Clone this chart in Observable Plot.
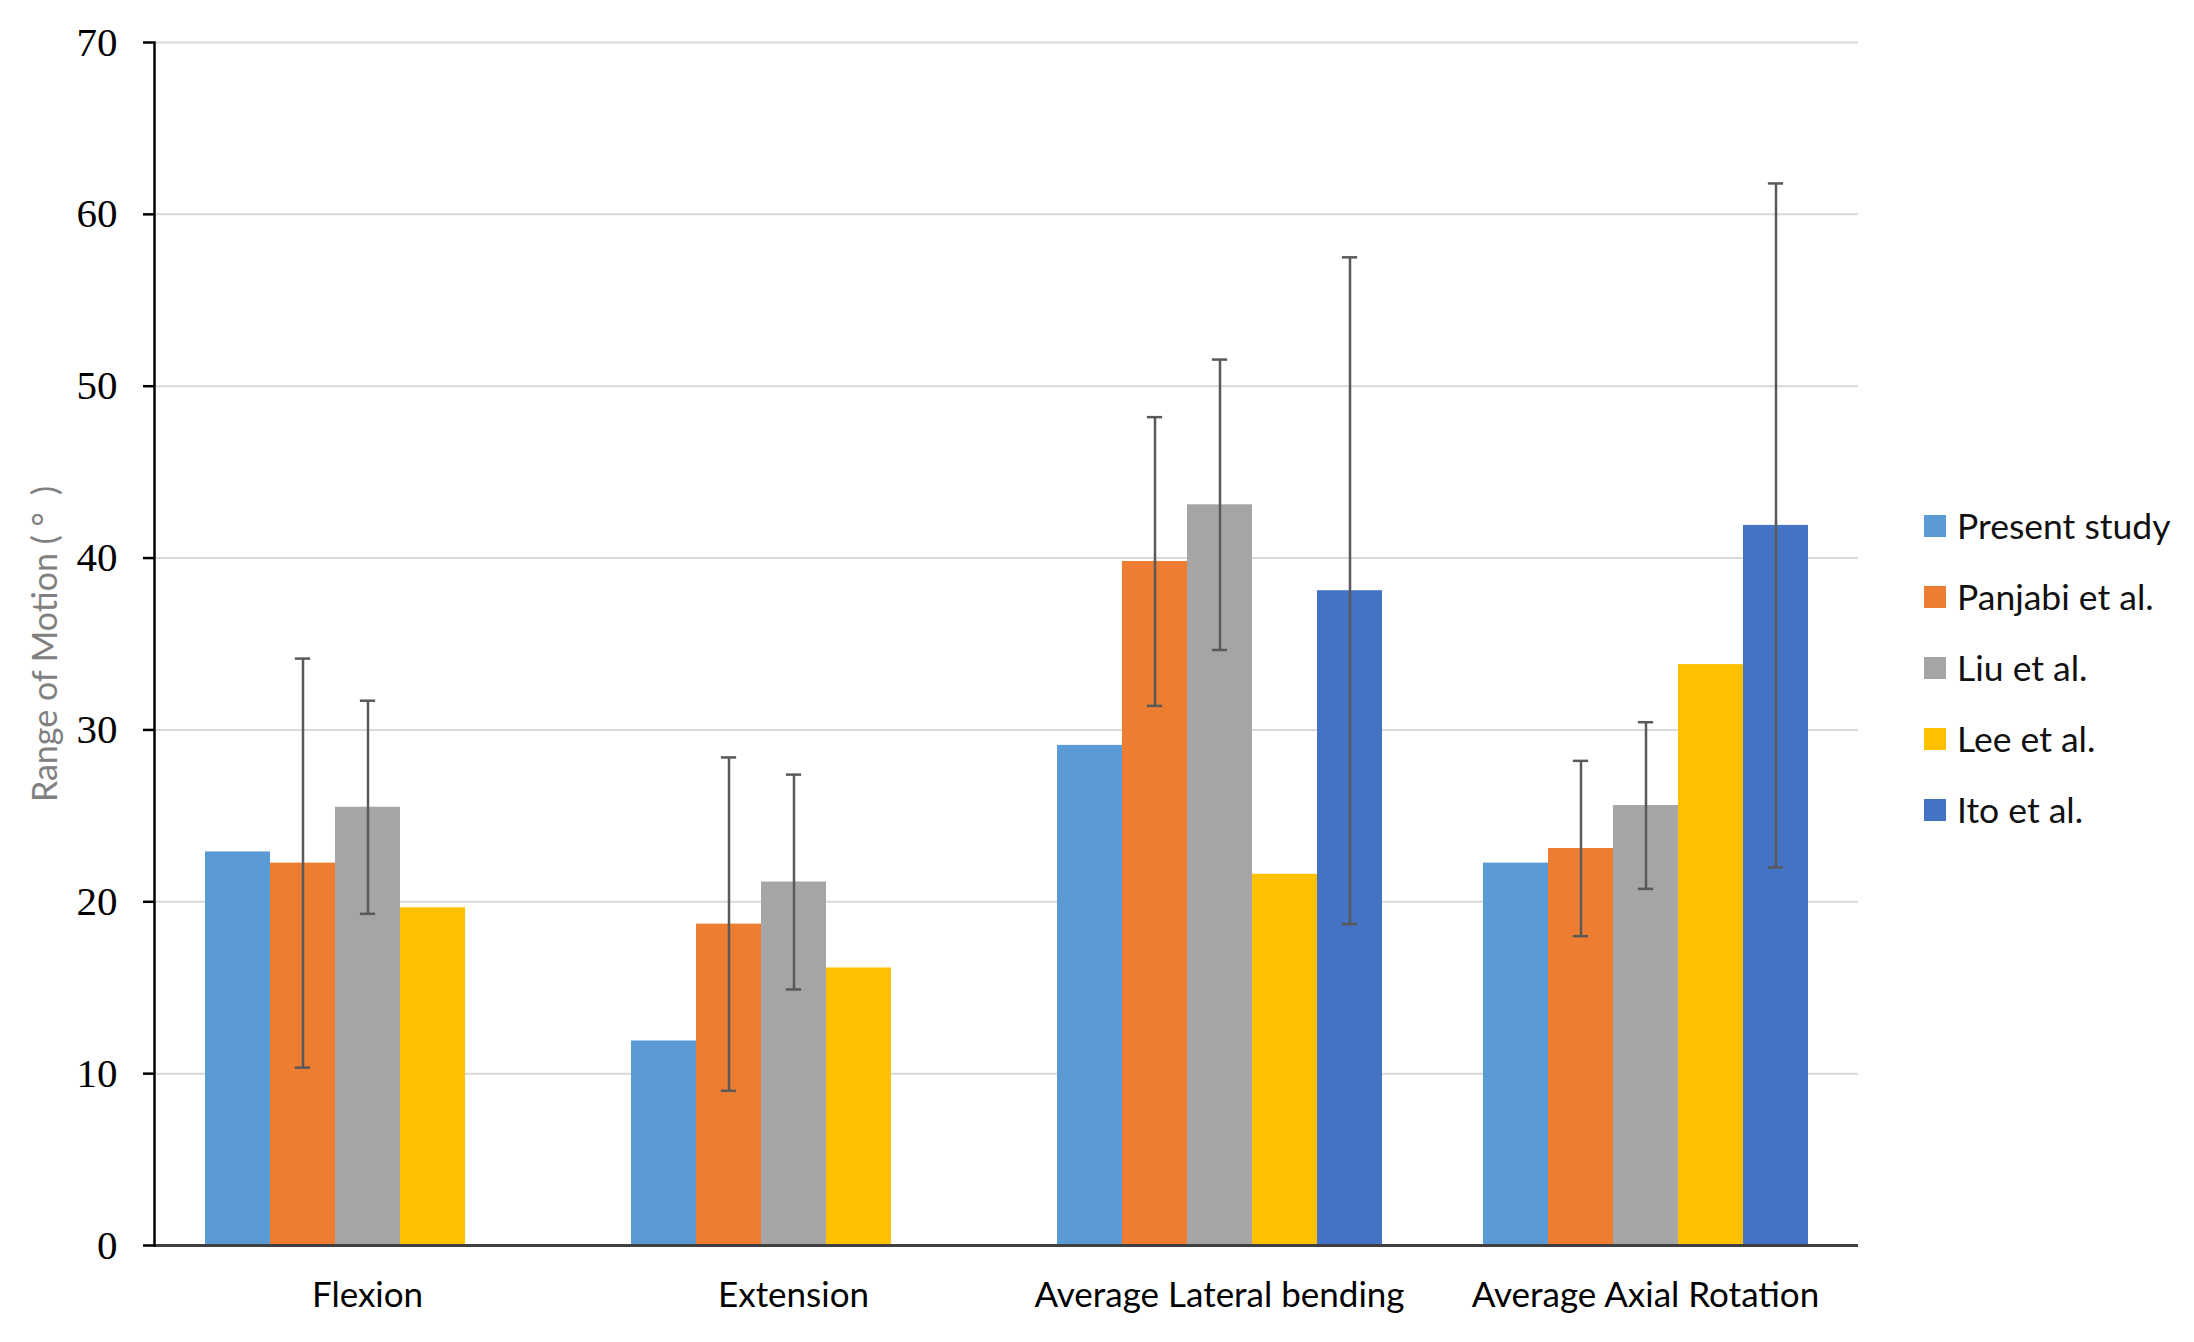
<!DOCTYPE html>
<html>
<head>
<meta charset="utf-8">
<script src="https://cdn.jsdelivr.net/npm/d3@7"></script>
<script src="https://cdn.jsdelivr.net/npm/@observablehq/plot@0.6"></script>
<style>
  html, body { margin: 0; padding: 0; background: white; }
  #wrap { position: relative; width: 2194px; height: 1342px; }
  #legend { position: absolute; left: 1924px; top: 490px; font-family: Lato, "Open Sans", sans-serif; font-size: 35.5px; color: #111; }
  .item { display: flex; align-items: center; height: 71px; }
  .sw { width: 22px; height: 22px; margin-right: 11px; }
</style>
</head>
<body>
<div id="wrap"><div id="chart"></div><div id="legend"></div></div>
<script>
const categories = ["Flexion", "Extension", "Average Lateral bending", "Average Axial Rotation"];
const series = ["Present study", "Panjabi et al.", "Liu et al.", "Lee et al.", "Ito et al."];
const colors = ["#5B9BD5", "#ED7D31", "#A5A5A5", "#FFC000", "#4472C4"];

const presentStudy = [22.9, 11.9, 29.1, 22.25];
const panjabi      = [22.25, 18.7, 39.8, 23.1];
const liu          = [25.5, 21.15, 43.1, 25.6];
const lee          = [19.65, 16.15, 21.6, 33.8];
const ito          = [null, null, 38.1, 41.9];

const presentSD = [null, null, null, null];
const panjabiSD = [11.9, 9.7, 8.4, 5.1];
const liuSD     = [6.2, 6.25, 8.45, 4.85];
const leeSD     = [null, null, null, null];
const itoSD     = [null, null, 19.4, 19.9];

const yTicks = [0, 10, 20, 30, 40, 50, 60, 70];

const means = [presentStudy, panjabi, liu, lee, ito];
const sds = [presentSD, panjabiSD, liuSD, leeSD, itoSD];

const rows = [];
categories.forEach((c, i) => {
  series.forEach((s, j) => {
    const v = means[j][i];
    if (v == null) return;
    const sd = sds[j][i];
    rows.push({category: c, series: s, value: v, sd: sd,
               lo: sd == null ? null : v - sd, hi: sd == null ? null : v + sd});
  });
});
const errRows = rows.filter(d => d.sd != null);

const W = 1900, H = 1342, mL = 154, mR = 42, mT = 42, mB = 97;
const pOuter = 0.74;
const facetW = (W - mL - mR) / categories.length;
const bw = facetW / (series.length + 2 * pOuter);
const capInset = (bw - 16) / 2;

const chart = Plot.plot({
  width: W, height: H,
  marginLeft: mL, marginRight: mR, marginTop: mT, marginBottom: mB,
  style: {fontFamily: "Lato, 'Open Sans', sans-serif", background: "white", overflow: "visible"},
  fx: {domain: categories, padding: 0, label: null},
  x: {domain: series, paddingInner: 0, paddingOuter: pOuter, axis: null},
  y: {domain: [0, 70]},
  color: {domain: series, range: colors},
  marks: [
    Plot.gridY(yTicks, {stroke: "#d9d9d9", strokeOpacity: 1, strokeWidth: 2}),
    Plot.barY(rows, {fx: "category", x: "series", y: "value", fill: "series"}),
    Plot.ruleY([0], {stroke: "#404040", strokeWidth: 3}),
    Plot.frame({anchor: "left", facetAnchor: "left", stroke: "#000", strokeWidth: 2.5}),
    Plot.ruleX(errRows, {fx: "category", x: "series", y1: "lo", y2: "hi", stroke: "#595959", strokeWidth: 2.5}),
    Plot.tickY(errRows, {fx: "category", x: "series", y: "hi", stroke: "#595959", strokeWidth: 2.5, insetLeft: capInset, insetRight: capInset}),
    Plot.tickY(errRows, {fx: "category", x: "series", y: "lo", stroke: "#595959", strokeWidth: 2.5, insetLeft: capInset, insetRight: capInset}),
    Plot.axisY(yTicks, {tickSize: 11, tickPadding: 26, stroke: "#000", strokeWidth: 2.5,
      fontFamily: "'Liberation Serif', 'DejaVu Serif', serif", fontSize: 41, fill: "#000", label: null}),
    Plot.axisY({ticks: [], tickSize: 0, label: "Range of Motion ( °  )", labelAnchor: "center", labelArrow: "none",
      labelOffset: 122, fontSize: 34, fill: "#808080",
      fontFamily: "Lato, sans-serif"}),
    Plot.axisFx({anchor: "bottom", tickSize: 0, tickPadding: 37, fontSize: 35, fill: "#000", label: null})
  ]
});
document.getElementById("chart").appendChild(chart);

const legend = document.getElementById("legend");
series.forEach((s, i) => {
  const it = document.createElement("div");
  it.className = "item";
  const sw = document.createElement("div");
  sw.className = "sw";
  sw.style.background = colors[i];
  const t = document.createElement("span");
  t.textContent = s;
  it.appendChild(sw);
  it.appendChild(t);
  legend.appendChild(it);
});
</script>
</body>
</html>
